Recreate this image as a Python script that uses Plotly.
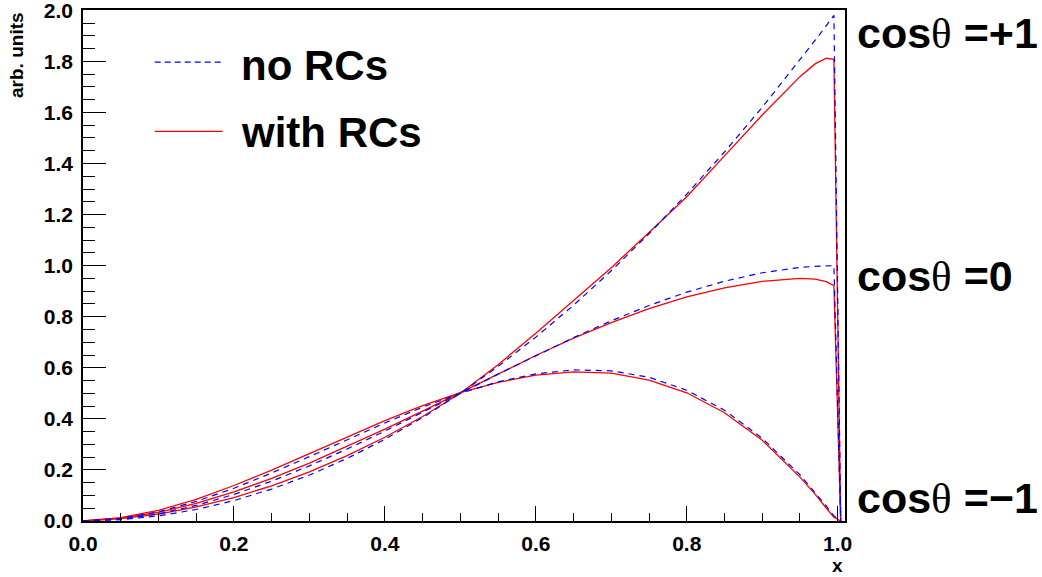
import plotly.graph_objects as go

# x values of the sampled points
X = [0.00, 0.05, 0.10, 0.15, 0.20, 0.25, 0.30, 0.35, 0.40, 0.45, 0.50, 0.55,
     0.60, 0.65, 0.70, 0.75, 0.80, 0.85, 0.90, 0.95, 0.97, 0.985, 0.995, 1.004]

# no radiative corrections (blue dashed)
noRC_p1 = [0, 0.005, 0.020, 0.045, 0.080, 0.125, 0.180, 0.245, 0.320, 0.405, 0.500, 0.605,
           0.720, 0.845, 0.980, 1.125, 1.280, 1.445, 1.620, 1.805, 1.882, 1.940, 1.980, 0.0]
noRC_0 = [0, 0.007, 0.028, 0.061, 0.104, 0.156, 0.216, 0.282, 0.352, 0.425, 0.500, 0.575,
          0.648, 0.718, 0.784, 0.844, 0.896, 0.939, 0.972, 0.993, 0.997, 0.999, 1.000, 0.0]
noRC_m1 = [0, 0.010, 0.036, 0.077, 0.128, 0.188, 0.252, 0.319, 0.384, 0.446, 0.500, 0.545,
           0.576, 0.592, 0.588, 0.563, 0.512, 0.434, 0.324, 0.181, 0.113, 0.058, 0.020, 0.0]

# with radiative corrections (red solid)
RC_p1 = [0, 0.009, 0.027, 0.055, 0.092, 0.138, 0.192, 0.256, 0.328, 0.409, 0.500, 0.612,
         0.735, 0.862, 0.992, 1.130, 1.270, 1.430, 1.590, 1.740, 1.790, 1.812, 1.808, 0.0]
RC_0 = [0, 0.011, 0.034, 0.069, 0.114, 0.167, 0.227, 0.292, 0.360, 0.430, 0.502, 0.576,
        0.648, 0.716, 0.777, 0.832, 0.878, 0.913, 0.938, 0.950, 0.947, 0.937, 0.922, 0.0]
RC_m1 = [0, 0.013, 0.042, 0.085, 0.139, 0.199, 0.264, 0.329, 0.393, 0.452, 0.503, 0.543,
         0.571, 0.584, 0.579, 0.552, 0.502, 0.424, 0.316, 0.172, 0.105, 0.050, 0.015, 0.0]

label_values = ["+1", "0", "\u22121"]
label_y = [1.91, 0.958, 0.092]
legend_names = ["no RCs", "with RCs"]

FONT = "Liberation Sans"
BLUE = "#0000ff"
RED = "#ff0000"

fig = go.Figure()
for ys in (RC_p1, RC_0, RC_m1):
    fig.add_trace(go.Scatter(x=X, y=ys, mode="lines", showlegend=False,
                             line=dict(color=RED, width=1.3)))
for ys in (noRC_p1, noRC_0, noRC_m1):
    fig.add_trace(go.Scatter(x=X, y=ys, mode="lines", showlegend=False,
                             line=dict(color=BLUE, width=1.2, dash="6px,5px")))

axis_common = dict(showgrid=False, zeroline=False, showline=True, mirror=True,
                   linecolor="black", linewidth=1.5, ticks="inside", tickcolor="black",
                   tickwidth=1, tickformat=".1f", automargin=False,
                   ticklabeloverflow="allow",
                   tickfont=dict(family=FONT, size=21, color="black", weight="bold"))

fig.update_layout(
    width=1042, height=577,
    margin=dict(l=83, r=197, t=10, b=56, pad=0, autoexpand=False),
    paper_bgcolor="white", plot_bgcolor="white",
    showlegend=False,
    xaxis=dict(range=[0, 1.0097], tick0=0, dtick=0.2, ticklen=15,
               minor=dict(dtick=0.05, ticklen=8, ticks="inside", tickcolor="black"),
               ticklabelstandoff=3, **axis_common),
    yaxis=dict(range=[0, 2.001], tick0=0, dtick=0.2, ticklen=23,
               minor=dict(dtick=0.05, ticklen=12, ticks="inside", tickcolor="black"),
               ticklabelstandoff=4, **axis_common),
)

# axis titles (ROOT style, right-aligned at axis ends)
fig.add_annotation(text="<b>arb. units</b>", xref="paper", yref="paper",
                   x=-0.088, y=1.0, xanchor="center", yanchor="top", textangle=-90,
                   showarrow=False, font=dict(family=FONT, size=19, color="black"))
fig.add_annotation(text="<b>x</b>", xref="x", yref="paper", x=1.0, y=-0.088,
                   xanchor="center", yanchor="middle", showarrow=False,
                   font=dict(family=FONT, size=19, color="black"))

# curve labels on the right
for v, yv in zip(label_values, label_y):
    fig.add_annotation(
        text="<b>cos</b><span style='font-family:Liberation Serif;font-weight:normal'>θ</span><b> =" + v + "</b>",
        xref="paper", yref="y", x=1.013, y=yv, xanchor="left", yanchor="middle",
        showarrow=False, font=dict(family=FONT, size=43, color="black"))

# legend (manual, ROOT-like with long key lines)
leg_line_y = [1.797, 1.526]
leg_text_y = [1.785, 1.522]
leg_style = [dict(color=BLUE, width=1.2, dash="6px,4px"), dict(color=RED, width=1.3)]
for name, ly, ty, st in zip(legend_names, leg_line_y, leg_text_y, leg_style):
    fig.add_shape(type="line", xref="x", yref="y", x0=0.095, x1=0.185, y0=ly, y1=ly, line=st)
    fig.add_annotation(text="<b>" + name + "</b>", xref="x", yref="y", x=0.207, y=ty,
                       xanchor="left", yanchor="middle", showarrow=False,
                       font=dict(family=FONT, size=42, color="black"))

fig.write_html("out.html", config={"displayModeBar": False},
               post_script="document.body.style.margin='0';")
